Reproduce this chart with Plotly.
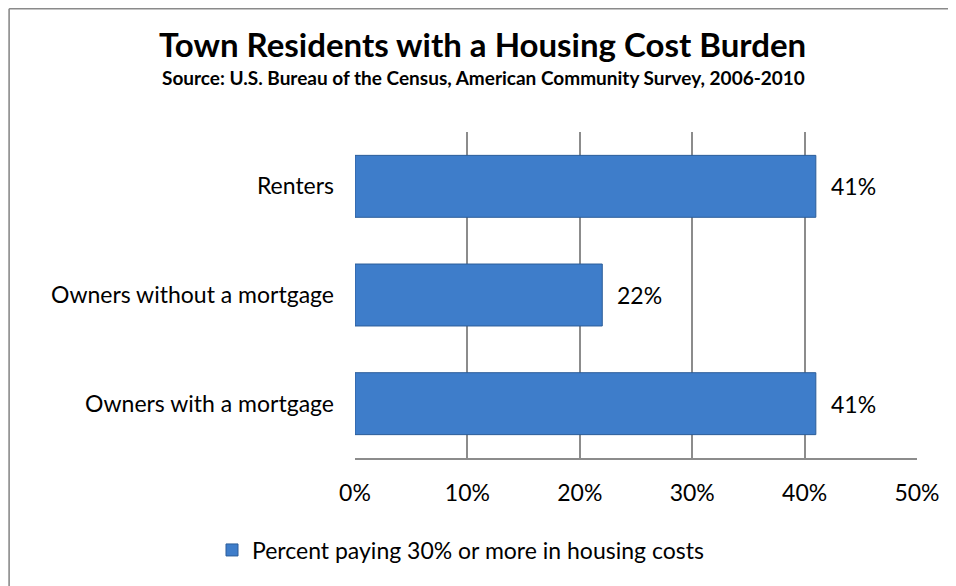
import plotly.graph_objects as go

categories = ["Renters", "Owners without a mortgage", "Owners with a mortgage"]
values = [41, 22, 41]
value_labels = ["41%", "22%", "41%"]
tick_vals = [0, 10, 20, 30, 40, 50]
tick_text = ["0%", "10%", "20%", "30%", "40%", "50%"]
series_name = "Percent paying 30% or more in housing costs"
title = "Town Residents with a Housing Cost Burden"
subtitle = "Source: U.S. Bureau of the Census, American Community Survey, 2006-2010"

OFF = 8  # page body margin offset
W, H = 964, 578
L, R, T, B = 355 - OFF, W - (917.5 - OFF), 132 - OFF, H - (458 - OFF)
pw, ph = W - L - R, H - T - B

def px(x):  # page x -> paper
    return (x - OFF - L) / pw

def py(y):  # page y -> paper
    return (H - B - (y - OFF)) / ph

FONT = "Lato"
FS = 23

fig = go.Figure()
fig.add_trace(go.Bar(
    y=categories, x=values, orientation="h", name=series_name,
    marker=dict(color="#3e7dca", line=dict(color="#2c5d99", width=1)),
    showlegend=True,
))

for c, v, t in zip(categories, values, value_labels):
    fig.add_annotation(x=v, y=c, text=t, showarrow=False, xanchor="left",
                       xshift=13, font=dict(size=FS, color="#000", family=FONT))

fig.add_annotation(x=px(483), y=py(44), xref="paper", yref="paper", text="<b>" + title + "</b>",
                   showarrow=False, xanchor="center", yanchor="middle",
                   font=dict(size=33, color="#000", family=FONT))
fig.add_annotation(x=px(484), y=py(77), xref="paper", yref="paper", text="<b>" + subtitle + "</b>",
                   showarrow=False, xanchor="center", yanchor="middle",
                   font=dict(size=19, color="#000", family=FONT))

# outer chart border (only left and top edges are within the frame)
border = dict(color="#8a8a8a", width=1.6)
fig.add_shape(type="line", xref="paper", yref="paper",
              x0=px(8.8), x1=px(8.8), y0=py(8.8), y1=py(620), line=border, layer="below")
fig.add_shape(type="line", xref="paper", yref="paper",
              x0=px(8.8), x1=px(990), y0=py(8.8), y1=py(8.8), line=border, layer="below")

fig.update_layout(
    width=W, height=H, margin=dict(l=L, r=R, t=T, b=B),
    paper_bgcolor="white", plot_bgcolor="white",
    bargap=0.43,
    font=dict(family=FONT, color="#000"),
    legend=dict(orientation="h", xref="container", yref="container",
                x=(212 - OFF) / W, xanchor="left", y=1 - (550 - OFF) / H, yanchor="middle",
                font=dict(size=FS, family=FONT), itemwidth=30, bgcolor="rgba(0,0,0,0)"),
    xaxis=dict(range=[0, 50], tickvals=tick_vals, ticktext=tick_text,
               showgrid=True, gridcolor="#8c8c8c", gridwidth=1.5,
               showline=True, linecolor="#8c8c8c", linewidth=1.5,
               zeroline=False, ticks="", ticklabelstandoff=14,
               tickfont=dict(size=FS, family=FONT, color="#000"), mirror=False),
    yaxis=dict(autorange="reversed", showgrid=False, zeroline=False,
               showline=False, ticks="", ticklabelstandoff=20,
               tickfont=dict(size=FS, family=FONT, color="#000")),
)

fig.write_html("out.html",
               post_script="document.documentElement.style.overflow='hidden';document.body.style.overflow='hidden';")
